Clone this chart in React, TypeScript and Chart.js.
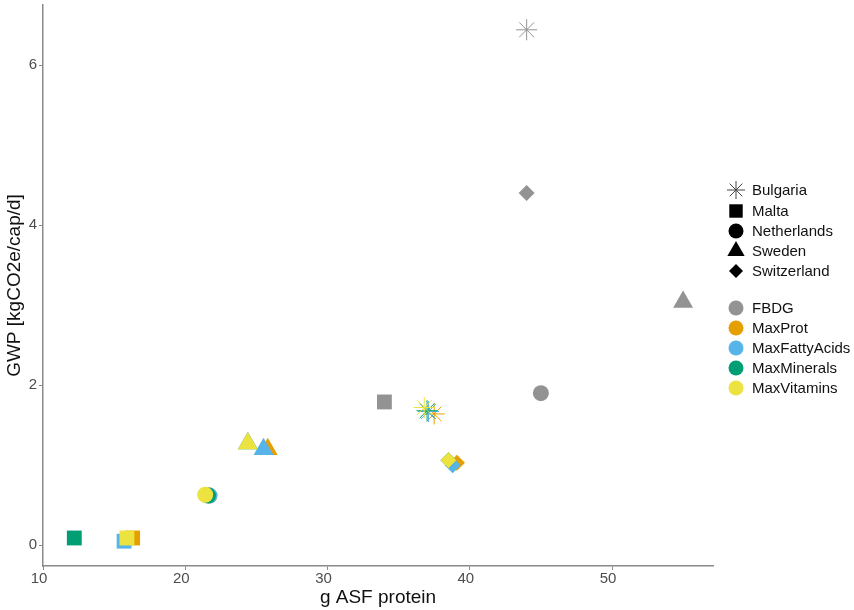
import React, { useEffect, useRef } from "react";
import { Chart, registerables } from "chart.js";
import { drawPoint } from "chart.js/helpers";

Chart.register(...registerables);

// ---- data ----
const countries = ["Bulgaria", "Malta", "Netherlands", "Sweden", "Switzerland"];
const scenarios = ["FBDG", "MaxProt", "MaxFattyAcids", "MaxMinerals", "MaxVitamins"];

const fbdgX = [44.0, 34.0, 45.0, 55.0, 44.0];
const fbdgY = [6.44, 1.79, 1.9, 3.04, 4.4];
const maxProtX = [37.5, 16.3, 21.7, 25.8, 39.1];
const maxProtY = [1.64, 0.09, 0.62, 1.2, 1.03];
const maxFattyX = [37.1, 15.7, 21.7, 25.5, 38.8];
const maxFattyY = [1.67, 0.05, 0.62, 1.2, 1.0];
const maxMineralsX = [37.0, 12.2, 21.6, 24.4, 38.5];
const maxMineralsY = [1.68, 0.09, 0.62, 1.27, 1.06];
const maxVitaminsX = [36.8, 15.9, 21.4, 24.4, 38.5];
const maxVitaminsY = [1.72, 0.09, 0.63, 1.27, 1.06];

const xTicks = [10, 20, 30, 40, 50];
const yTicks = [0, 2, 4, 6];

// ---- styles ----
const scenarioColors = ["#939393", "#E69F00", "#56B4E9", "#009E73", "#EDE340"];
const countryStyles = ["star", "rect", "circle", "triangle", "rectRot"];
const countryRadius = [10.5, 10.5, 8, 11.5, 8];
const legendRadius = [9, 9.5, 7.5, 10, 7];

const seriesX = [fbdgX, maxProtX, maxFattyX, maxMineralsX, maxVitaminsX];
const seriesY = [fbdgY, maxProtY, maxFattyY, maxMineralsY, maxVitaminsY];

const FONT = "'Liberation Sans', Arial, sans-serif";

const legendPlugin = {
  id: "customLegend",
  afterDraw(chart: any) {
    const ctx = chart.ctx as CanvasRenderingContext2D;
    ctx.save();
    ctx.font = `15px ${FONT}`;
    ctx.textBaseline = "middle";
    ctx.textAlign = "left";
    const symX = 736;
    const txtX = 752;
    const shapeRows = [190, 211, 231, 251, 271];
    countries.forEach((c, i) => {
      const y = shapeRows[i];
      ctx.fillStyle = "#000";
      ctx.strokeStyle = i === 0 ? "#444" : "#000";
      drawPoint(
        ctx,
        { pointStyle: countryStyles[i], radius: legendRadius[i], rotation: 0, borderWidth: i === 0 ? 1 : 0 } as any,
        symX,
        y
      );
      ctx.fillStyle = "#111";
      ctx.fillText(c, txtX, y + 1);
    });
    const colorRows = [308, 328, 348, 368, 388];
    scenarios.forEach((s, i) => {
      const y = colorRows[i];
      ctx.fillStyle = scenarioColors[i];
      ctx.beginPath();
      ctx.arc(symX, y, 7.5, 0, Math.PI * 2);
      ctx.fill();
      ctx.fillStyle = "#111";
      ctx.fillText(s, txtX, y + 1);
    });
    ctx.restore();
  },
};

export default function App() {
  const ref = useRef<HTMLCanvasElement | null>(null);
  useEffect(() => {
    document.body.style.margin = "0";
    if (!ref.current) return;
    const datasets = scenarios.map((s, si) => ({
      label: s,
      data: seriesX[si].map((x, ci) => ({ x, y: seriesY[si][ci] })),
      pointStyle: countryStyles as any,
      pointRadius: countryRadius,
      pointHoverRadius: countryRadius,
      backgroundColor: scenarioColors[si],
      borderColor: scenarioColors[si],
      pointBorderWidth: countryStyles.map((p) => (p === "star" ? 1 : 0)),
      order: 5 - si,
    }));
    const chart = new Chart(ref.current, {
      type: "scatter",
      data: { datasets },
      options: {
        animation: false,
        responsive: false,
        devicePixelRatio: 1,
        layout: { autoPadding: false, padding: { top: 5, right: 141, left: 0, bottom: 0 } },
        plugins: { legend: { display: false }, tooltip: { enabled: false } },
        scales: {
          x: {
            type: "linear",
            min: 10,
            max: 57.1,
            afterBuildTicks: (scale: any) => {
              scale.ticks = xTicks.map((v) => ({ value: v }));
            },
            afterFit: (scale: any) => {
              scale.height = 44;
              scale.paddingLeft = 0;
              scale.paddingRight = 0;
            },
            grid: { drawOnChartArea: false, drawTicks: true, tickLength: 4, tickColor: "#8a8a8a", tickWidth: 1 },
            border: { display: true, color: "#8a8a8a", width: 1.5 },
            ticks: { color: "#4d4d4d", font: { family: FONT, size: 15 }, padding: 0, labelOffset: -4 },
            title: { display: true, text: "g ASF protein", color: "#111", font: { family: FONT, size: 19 }, padding: { top: 0, bottom: 1 } },
          },
          y: {
            type: "linear",
            min: -0.26,
            max: 6.75,
            afterBuildTicks: (scale: any) => {
              scale.ticks = yTicks.map((v) => ({ value: v }));
            },
            afterFit: (scale: any) => {
              scale.width = 43;
              scale.paddingTop = 0;
              scale.paddingBottom = 0;
            },
            grid: { drawOnChartArea: false, drawTicks: true, tickLength: 4, tickColor: "#8a8a8a", tickWidth: 1 },
            border: { display: true, color: "#8a8a8a", width: 1.5 },
            ticks: { color: "#4d4d4d", font: { family: FONT, size: 15 }, padding: 2 },
            title: { display: true, text: "GWP [kgCO2e/cap/d]", color: "#111", font: { family: FONT, size: 19 }, padding: { top: 3, bottom: 0 } },
          },
        },
      },
      plugins: [legendPlugin],
    } as any);
    return () => chart.destroy();
  }, []);
  return (
    <div style={{ width: 854, height: 610 }}>
      <canvas ref={ref} width={854} height={610} style={{ width: 854, height: 610, display: "block" }} />
    </div>
  );
}
